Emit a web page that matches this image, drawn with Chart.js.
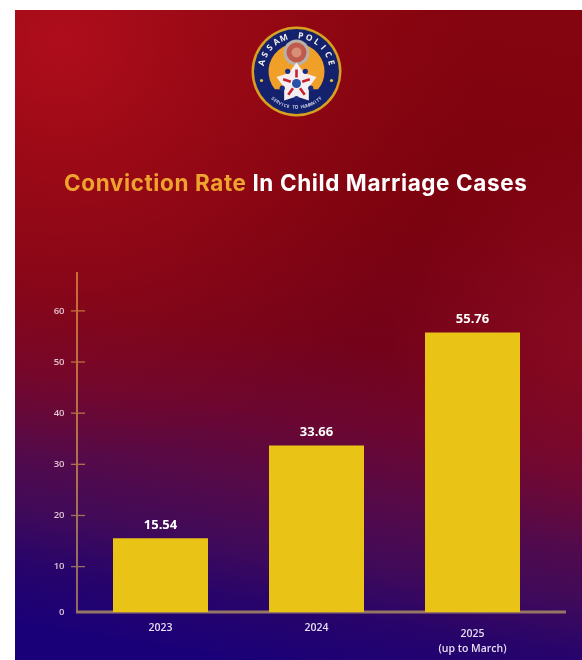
<!DOCTYPE html>
<html><head><meta charset="utf-8">
<script src="https://cdn.jsdelivr.net/npm/chart.js@4"></script>
<style>html,body{margin:0;padding:0;background:#fff;overflow:hidden}canvas{display:block;filter:blur(0.7px)}#w{width:582px;height:660px}</style>
</head><body><div id="w"><canvas id="c" width="582" height="660"></canvas></div>
<script>
const categories = ['2023', '2024', ['2025', '(up to March)']];
const convictionRate = [15.54, 33.66, 55.76];
const valueLabels = ['15.54', '33.66', '55.76'];
const yTickValues = [0, 10, 20, 30, 40, 50, 60];
const titleParts = [['Conviction Rate', '#eea32e'], [' In Child Marriage Cases', '#ffffff']];
const sealTop = 'ASSAM POLICE';
const sealBottom = 'SERVICE TO HUMANITY';

const AXIS_MIN = 1.13, AXIS_MAX = 67.6;

function arcText(ctx, text, cx, cy, r, mid, step, inward) {
  const n = text.length;
  for (let i = 0; i < n; i++) {
    const a = mid + (i - (n - 1) / 2) * step * (inward ? 1 : -1);
    ctx.save();
    ctx.translate(cx + r * Math.cos(a), cy + r * Math.sin(a));
    ctx.rotate(inward ? a + Math.PI / 2 : a - Math.PI / 2);
    ctx.fillText(text[i], 0, 0);
    ctx.restore();
  }
}

const backdrop = {
  id: 'backdrop',
  beforeDraw(chart) {
    const { ctx } = chart;
    const X = 15, Y = 10, W = 567, H = 650;
    ctx.save();
    ctx.fillStyle = '#fff'; ctx.fillRect(0, 0, 582, 660);
    const g = ctx.createLinearGradient(350, 10, 245, 660);
    g.addColorStop(0, '#84040f');
    g.addColorStop(0.3, '#7a020f');
    g.addColorStop(0.5, '#74031a');
    g.addColorStop(0.62, '#6c0630');
    g.addColorStop(0.73, '#560a48');
    g.addColorStop(0.83, '#400a5a');
    g.addColorStop(0.91, '#28046a');
    g.addColorStop(1, '#1a0078');
    ctx.fillStyle = g; ctx.fillRect(X, Y, W, H);
    const r = ctx.createRadialGradient(60, 40, 0, 60, 40, 420);
    r.addColorStop(0, 'rgba(178,14,28,0.95)');
    r.addColorStop(0.55, 'rgba(165,12,24,0.45)');
    r.addColorStop(1, 'rgba(150,10,20,0)');
    ctx.fillStyle = r; ctx.fillRect(X, Y, W, H);
    const s = ctx.createRadialGradient(600, 340, 0, 600, 340, 210);
    s.addColorStop(0, 'rgba(150,14,40,0.6)');
    s.addColorStop(1, 'rgba(150,14,40,0)');
    ctx.fillStyle = s; ctx.fillRect(X, Y, W, H);
    ctx.restore();
  }
};

const seal = {
  id: 'seal',
  beforeDatasetsDraw(chart) {
    const { ctx } = chart;
    const cx = 296.5, cy = 71.5;
    const disc = (x, y, r, c) => { ctx.fillStyle = c; ctx.beginPath(); ctx.arc(x, y, r, 0, 7); ctx.fill(); };
    ctx.save();
    disc(cx, cy, 45, '#d9a020');
    disc(cx, cy, 42.5, '#14226e');
    ctx.fillStyle = '#f0a028';
    ctx.beginPath();
    ctx.arc(cx, cy, 28, Math.PI * 0.78, Math.PI * 2.22);
    ctx.closePath(); ctx.fill();
    disc(cx, cy - 19, 13, '#b9b0a8');
    disc(cx, cy - 19, 10, '#c05a4c');
    disc(cx, cy - 19, 5, '#d88e78');
    const sy = cy + 12;
    ctx.fillStyle = '#f4eef0';
    ctx.beginPath();
    for (let i = 0; i < 10; i++) {
      const a = -Math.PI / 2 + i * Math.PI / 5, rr = i % 2 ? 13 : 21;
      ctx[i ? 'lineTo' : 'moveTo'](cx + rr * Math.cos(a), sy + rr * Math.sin(a));
    }
    ctx.closePath(); ctx.fill();
    disc(cx, sy + 1, 13, '#f4eef0');
    ctx.strokeStyle = '#c8202c'; ctx.lineWidth = 2.6;
    for (let i = 0; i < 5; i++) {
      const a = -Math.PI / 2 + i * 2 * Math.PI / 5;
      ctx.beginPath();
      ctx.moveTo(cx + 6 * Math.cos(a), sy + 6 * Math.sin(a));
      ctx.lineTo(cx + 14 * Math.cos(a), sy + 14 * Math.sin(a));
      ctx.stroke();
      const b = a + Math.PI / 5;
      disc(cx + 15 * Math.cos(b), sy + 15 * Math.sin(b), 2.6, '#1c2c80');
    }
    disc(cx, sy, 4.5, '#2a50a8');
    ctx.textAlign = 'center'; ctx.textBaseline = 'middle';
    ctx.fillStyle = '#f3f0ea';
    ctx.font = '700 8.5px "Open Sans"';
    arcText(ctx, sealTop, cx, cy, 35.5, -Math.PI / 2, 0.24, true);
    ctx.fillStyle = '#c9cbe6';
    ctx.font = '700 4.5px "Open Sans"';
    arcText(ctx, sealBottom, cx, cy, 36, Math.PI / 2, 0.08, false);
    disc(cx - 35, cy + 9, 1.6, '#e7c43a');
    disc(cx + 35, cy + 9, 1.6, '#e7c43a');
    ctx.restore();
  }
};

const heading = {
  id: 'heading',
  afterDraw(chart) {
    const { ctx } = chart;
    ctx.save();
    ctx.font = '700 22.5px Inter';
    ctx.letterSpacing = '0.6px';
    ctx.textBaseline = 'middle'; ctx.textAlign = 'left';
    let x = 64;
    for (const [t, c] of titleParts) {
      ctx.fillStyle = c;
      ctx.fillText(t, x, 184);
      x += ctx.measureText(t).width;
    }
    ctx.restore();
  }
};

const axes = {
  id: 'axes',
  beforeDatasetsDraw(chart) {
    const { ctx, chartArea: a, scales } = chart;
    const AX = 77;
    ctx.save();
    const g = ctx.createLinearGradient(0, a.top, 0, a.bottom);
    g.addColorStop(0, '#c86e36'); g.addColorStop(0.55, '#b0704c'); g.addColorStop(1, '#8c6c68');
    ctx.strokeStyle = g; ctx.lineWidth = 2;
    ctx.beginPath(); ctx.moveTo(AX, a.top); ctx.lineTo(AX, a.bottom); ctx.stroke();
    ctx.lineWidth = 1.3;
    scales.y.ticks.forEach(t => {
      if (t.value <= AXIS_MIN) return;
      const y = scales.y.getPixelForValue(t.value);
      ctx.beginPath(); ctx.moveTo(71, y); ctx.lineTo(85, y); ctx.stroke();
    });
    ctx.strokeStyle = '#967664'; ctx.lineWidth = 3;
    ctx.beginPath(); ctx.moveTo(AX - 1, a.bottom); ctx.lineTo(566, a.bottom); ctx.stroke();
    ctx.restore();
  }
};

const barValues = {
  id: 'barValues',
  afterDatasetsDraw(chart) {
    const { ctx } = chart;
    ctx.save();
    ctx.font = '700 13px "Open Sans"';
    ctx.fillStyle = '#fff'; ctx.textAlign = 'center'; ctx.textBaseline = 'middle';
    chart.getDatasetMeta(0).data.forEach((b, i) => ctx.fillText(valueLabels[i], b.x, b.y - 13));
    ctx.restore();
  }
};

new Chart(document.getElementById('c'), {
  type: 'bar',
  data: { labels: categories, datasets: [{
    label: 'Conviction rate',
    data: convictionRate,
    backgroundColor: '#e9c416',
    categoryPercentage: 1,
    barPercentage: 0.609
  }] },
  options: {
    responsive: false, animation: false, devicePixelRatio: 1,
    layout: { padding: { top: 272, right: 31.5, left: 0, bottom: 0 } },
    plugins: { legend: { display: false }, tooltip: { enabled: false } },
    scales: {
      x: {
        grid: { display: false }, border: { display: false },
        afterFit(s) { s.height = 48; },
        ticks: {
          color: '#e6dcf0', maxRotation: 0, autoSkip: false, padding: 7,
          font: c => ({ family: 'Open Sans', size: 10.5, weight: '600',
            lineHeight: (c.index === 2 ? '15px' : '3px') })
        }
      },
      y: {
        min: AXIS_MIN, max: AXIS_MAX,
        grid: { display: false }, border: { display: false },
        afterFit(s) { s.width = 82.5; },
        afterBuildTicks(s) { s.ticks = yTickValues.map(v => ({ value: Math.max(v, AXIS_MIN) })); },
        ticks: {
          color: '#e0c4d0', padding: 10,
          font: { family: 'Open Sans', size: 9.5, weight: '600' },
          callback: v => String(Math.round(v / 10) * 10)
        }
      }
    }
  },
  plugins: [backdrop, seal, axes, barValues, heading]
});
</script></body></html>
